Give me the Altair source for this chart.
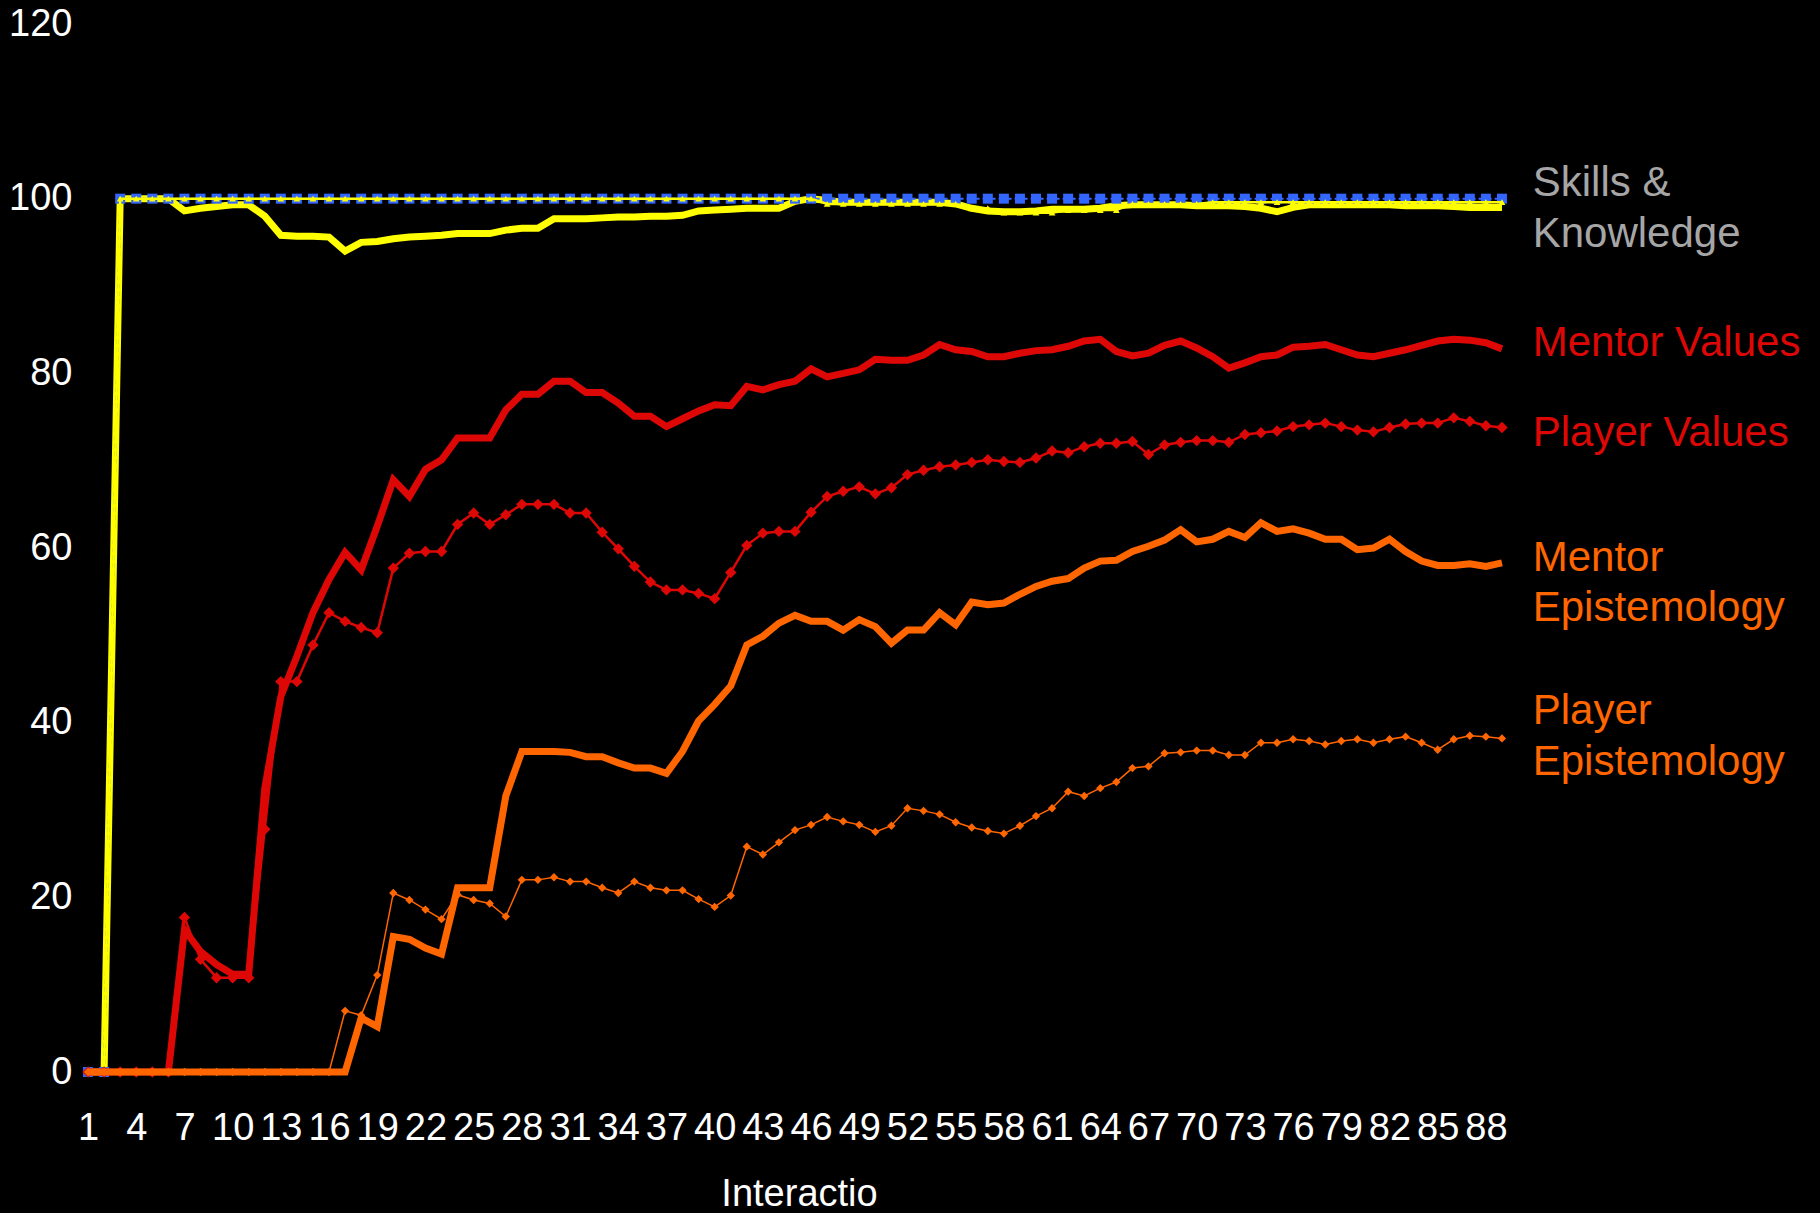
import altair as alt
import pandas as pd
import jinja2

interactions = list(range(1, 90))
x_tick_values = list(range(1, 89, 3))
y_tick_values = [0, 20, 40, 60, 80, 100, 120]

mentor_skills = [
    0, 0, 100, 100, 100, 100, 98.6, 98.9, 99.1, 99.3,
    99.3, 98.0, 95.8, 95.7, 95.7, 95.6, 94.0, 95.0, 95.1, 95.4,
    95.6, 95.7, 95.8, 96.0, 96.0, 96.0, 96.4, 96.6, 96.6, 97.7,
    97.7, 97.7, 97.8, 97.9, 97.9, 98.0, 98.0, 98.1, 98.6, 98.7,
    98.8, 98.9, 98.9, 98.9, 99.7, 100, 99.8, 99.6, 99.6, 99.6,
    99.6, 99.6, 99.6, 99.6, 99.4, 98.9, 98.6, 98.5, 98.5, 98.6,
    98.8, 98.8, 98.8, 98.9, 99.2, 99.3, 99.3, 99.3, 99.3, 99.2,
    99.2, 99.2, 99.1, 98.9, 98.5, 99.0, 99.3, 99.3, 99.3, 99.3,
    99.3, 99.3, 99.2, 99.2, 99.2, 99.1, 99.0, 99.0, 99.0,
]
skills_squares = [0, 0] + [100] * 87
player_skills = (
    [0, 0] + [100] * 44 + [99.4] * 9 + [98.9, 98.9] + [98.4] * 4
    + [98.7] * 4 + [99.4] * 5 + [99.6] * 19
)
mentor_values = [
    0, 0, 0, 0, 0, 0, 16.3, 13.8, 12.3, 11.2,
    11.2, 32.5, 43.0, 47.6, 52.6, 56.4, 59.5, 57.5, 62.5, 67.8,
    65.9, 69.0, 70.1, 72.6, 72.6, 72.6, 75.8, 77.6, 77.6, 79.1,
    79.1, 77.8, 77.8, 76.6, 75.1, 75.1, 73.9, 74.8, 75.7, 76.4,
    76.3, 78.5, 78.1, 78.7, 79.1, 80.5, 79.6, 80.0, 80.4, 81.6,
    81.5, 81.5, 82.1, 83.3, 82.7, 82.5, 81.9, 81.9, 82.3, 82.6,
    82.7, 83.1, 83.7, 83.9, 82.5, 82.0, 82.3, 83.2, 83.7, 82.9,
    81.9, 80.6, 81.2, 81.9, 82.1, 83.0, 83.1, 83.3, 82.7, 82.1,
    81.9, 82.3, 82.7, 83.2, 83.7, 83.9, 83.8, 83.5, 82.8,
]
player_values = [
    0, 0, 0, 0, 0, 0, 17.7, 12.9, 10.8, 10.8,
    10.8, 27.8, 44.7, 44.7, 48.9, 52.6, 51.6, 50.9, 50.3, 57.7,
    59.4, 59.6, 59.6, 62.7, 64.0, 62.7, 63.8, 65.0, 65.0, 65.0,
    64.0, 64.0, 61.8, 59.9, 57.9, 56.1, 55.2, 55.2, 54.8, 54.2,
    57.2, 60.3, 61.7, 61.9, 61.9, 64.1, 65.9, 66.5, 67.0, 66.2,
    66.9, 68.4, 68.9, 69.3, 69.5, 69.8, 70.1, 69.9, 69.8, 70.3,
    71.1, 70.9, 71.6, 72.0, 72.0, 72.2, 70.7, 71.8, 72.1, 72.3,
    72.3, 72.1, 73.0, 73.2, 73.4, 73.9, 74.1, 74.3, 73.9, 73.5,
    73.3, 73.8, 74.2, 74.3, 74.3, 74.9, 74.5, 74.0, 73.8,
]
mentor_epist = [
    0, 0, 0, 0, 0, 0, 0, 0, 0, 0,
    0, 0, 0, 0, 0, 0, 0, 6.2, 5.2, 15.5,
    15.2, 14.2, 13.5, 21.1, 21.1, 21.1, 31.6, 36.7, 36.7, 36.7,
    36.6, 36.1, 36.1, 35.4, 34.8, 34.8, 34.2, 36.7, 40.2, 42.1,
    44.2, 48.9, 49.9, 51.4, 52.3, 51.6, 51.6, 50.6, 51.8, 51.0,
    49.1, 50.6, 50.6, 52.6, 51.2, 53.8, 53.5, 53.7, 54.7, 55.6,
    56.2, 56.5, 57.7, 58.5, 58.6, 59.6, 60.2, 60.9, 62.1, 60.7,
    61.0, 61.9, 61.2, 62.9, 61.9, 62.2, 61.7, 61.0, 61.0, 59.8,
    60.0, 61.0, 59.6, 58.5, 58.0, 58.0, 58.2, 57.9, 58.3,
]
player_epist = [
    0, 0, 0, 0, 0, 0, 0, 0, 0, 0,
    0, 0, 0, 0, 0, 0, 7.0, 6.5, 11.1, 20.5,
    19.7, 18.6, 17.5, 20.3, 19.7, 19.3, 17.8, 22.0, 22.0, 22.3,
    21.8, 21.8, 21.1, 20.5, 21.8, 21.1, 20.8, 20.8, 19.8, 18.9,
    20.2, 25.8, 24.9, 26.3, 27.7, 28.3, 29.2, 28.7, 28.3, 27.5,
    28.2, 30.2, 29.9, 29.5, 28.6, 28.0, 27.6, 27.3, 28.2, 29.3,
    30.2, 32.1, 31.6, 32.5, 33.2, 34.8, 35.0, 36.5, 36.6, 36.8,
    36.8, 36.3, 36.3, 37.7, 37.7, 38.1, 37.9, 37.5, 37.9, 38.1,
    37.7, 38.1, 38.4, 37.7, 36.9, 38.1, 38.5, 38.4, 38.2,
]

label_texts = ["Skills &", "Knowledge", "Mentor Values", "Player Values",
               "Mentor", "Epistemology", "Player", "Epistemology"]
label_values = [100.3, 94.5, 82.0, 71.7, 57.4, 51.6, 39.8, 34.0]
label_colors = ["#a6a6a6", "#a6a6a6", "#dd0806", "#dd0806",
                "#ff6600", "#ff6600", "#ff6600", "#ff6600"]

series = {
    "Mentor Skills": mentor_skills,
    "Skills Squares": skills_squares,
    "Player Skills": player_skills,
    "Mentor Values": mentor_values,
    "Player Values": player_values,
    "Mentor Epistemology": mentor_epist,
    "Player Epistemology": player_epist,
}
frames = []
for name, vals in series.items():
    assert len(vals) == 89, (name, len(vals))
    frames.append(pd.DataFrame({"interaction": interactions, "value": vals, "series": name}))
df = pd.concat(frames, ignore_index=True)

labels_df = pd.DataFrame({"text": label_texts, "value": label_values, "color": label_colors})

W, H = 1430, 1048
FONT = "Liberation Sans"

x_scale = alt.Scale(domain=[0.5, 89.5], nice=False, zero=False)
y_scale = alt.Scale(domain=[0, 120], nice=False, zero=True)

x_axis = alt.Axis(
    values=x_tick_values, labelFontSize=38, labelColor="white", labelFont=FONT,
    domain=False, ticks=False, tickSize=0, grid=False, labelPadding=37.6,
    labelOverlap=False, labelFlush=False,
    title="Interactio", titleFontSize=38, titleColor="white", titleFont=FONT,
    titleFontWeight="normal", titleBaseline="alphabetic", titleY=133, titleX=719,
)
y_axis = alt.Axis(
    values=y_tick_values, labelFontSize=38, labelColor="white", labelFont=FONT,
    domain=False, ticks=False, tickSize=0, grid=False, labelPadding=8,
    labelOverlap=False, labelFlush=False, title=None,
)

base = alt.Chart(df).encode(
    x=alt.X("interaction:Q", scale=x_scale, axis=x_axis),
    y=alt.Y("value:Q", scale=y_scale, axis=y_axis),
)


def sel(name):
    return base.transform_filter(alt.datum.series == name)


layers = [
    sel("Mentor Skills").mark_line(color="#ffff00", strokeWidth=7),
    sel("Skills Squares").mark_line(color="#3366ff", strokeWidth=2, strokeDash=[5, 3]),
    sel("Skills Squares").mark_point(shape="square", filled=True, size=100, color="#3366ff", opacity=1),
    sel("Player Skills").mark_line(color="#ffff00", strokeWidth=2.5),
    sel("Player Skills").mark_point(shape="triangle-up", filled=True, size=45, color="#ffff00", opacity=1),
    sel("Mentor Values").mark_line(color="#dd0806", strokeWidth=7),
    sel("Player Values").mark_line(color="#dd0806", strokeWidth=2.5),
    sel("Player Values").mark_point(shape="diamond", filled=True, size=130, color="#dd0806", opacity=1),
    sel("Mentor Epistemology").mark_line(color="#ff6600", strokeWidth=7),
    sel("Player Epistemology").mark_line(color="#ff6600", strokeWidth=1.5),
    sel("Player Epistemology").mark_point(shape="diamond", filled=True, size=70, color="#ff6600", opacity=1),
]

text_layer = alt.Chart(labels_df).mark_text(
    align="left", baseline="alphabetic", fontSize=42, font=FONT
).encode(
    x=alt.value(1452.7),
    y=alt.Y("value:Q", scale=y_scale, axis=y_axis),
    text="text:N",
    color=alt.Color("color:N", scale=None),
)

chart = alt.layer(*layers, text_layer).properties(
    width=W,
    height=H,
    autosize=alt.AutoSizeParams(type="none"),
    padding={"left": 80, "top": 24, "right": 310, "bottom": 141},
    background="black",
).configure(font=FONT).configure_view(stroke=None)

page_template = jinja2.Template("""<!DOCTYPE html>
<html>
<head>
  <meta charset="utf-8">
  <style>
    html, body { margin: 0; padding: 0; background: #000; overflow: hidden; }
  </style>
  <script type="text/javascript" src="{{ base_url }}/vega@{{ vega_version }}"></script>
  <script type="text/javascript" src="{{ base_url }}/vega-lite@{{ vegalite_version }}"></script>
  <script type="text/javascript" src="{{ base_url }}/vega-embed@{{ vegaembed_version }}"></script>
</head>
<body>
  <div id="{{ output_div }}"></div>
  <script>
    (function(vegaEmbed) {
      var spec = {{ spec }};
      var embedOpt = {{ embed_options }};
      function showError(el, error){
        el.innerHTML = '<div style="color:red;"><p>JavaScript Error: ' + error.message + '</p></div>';
        throw error;
      }
      const el = document.getElementById('{{ output_div }}');
      vegaEmbed("#{{ output_div }}", spec, embedOpt).catch(error => showError(el, error));
    })(vegaEmbed);
  </script>
</body>
</html>
""")

chart.save("out.html", embed_options={"renderer": "svg", "actions": False}, template=page_template)
